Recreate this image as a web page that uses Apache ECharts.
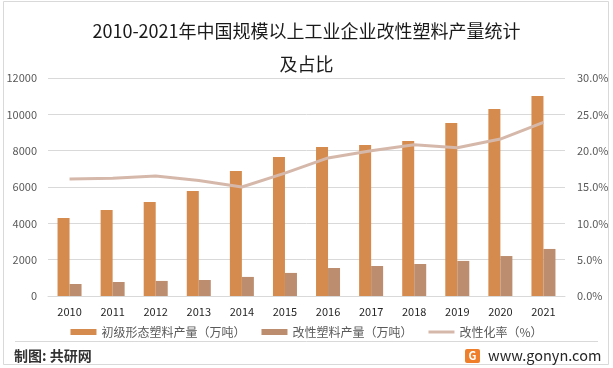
<!DOCTYPE html>
<html>
<head>
<meta charset="utf-8">
<script src="https://cdn.jsdelivr.net/npm/echarts@6/dist/echarts.min.js"></script>
<style>
html,body{margin:0;padding:0;background:#fff;}
#c{width:613px;height:368px;}
</style>
</head>
<body>
<div id="c"></div>
<script>
const years = ['2010','2011','2012','2013','2014','2015','2016','2017','2018','2019','2020','2021'];
const primaryOutput = [4300, 4730, 5170, 5780, 6880, 7650, 8200, 8310, 8530, 9520, 10290, 11010];
const modifiedOutput = [660, 770, 830, 880, 1050, 1270, 1540, 1650, 1760, 1930, 2200, 2590];
const modifiedRate = [16.1, 16.2, 16.5, 15.9, 15.0, 16.9, 19.0, 20.0, 20.8, 20.4, 21.6, 23.9];
const leftTicks = { min: 0, max: 12000, interval: 2000 };
const rightTicks = { min: 0, max: 30, interval: 5 };
const seriesNames = ['初级形态塑料产量（万吨）', '改性塑料产量（万吨）', '改性化率（%）'];

const font = '"Noto Sans CJK SC", "Noto Sans", sans-serif';
const chart = echarts.init(document.getElementById('c'), null, { renderer: 'canvas' });
chart.setOption({
  animation: false,
  backgroundColor: '#ffffff',
  textStyle: { fontFamily: font },
  title: {
    text: '2010-2021年中国规模以上工业企业改性塑料产量统计\n及占比',
    left: 'center',
    top: 15,
    padding: 0,
    textStyle: { fontSize: 18, fontWeight: 'normal', color: '#1a1a1a', lineHeight: 33, fontFamily: font }
  },
  grid: { left: 48, right: 48, top: 78, bottom: 72 },
  legend: {
    top: 321,
    left: 'center',
    itemWidth: 26,
    itemHeight: 6,
    itemGap: 16,
    symbolKeepAspect: true,
    textStyle: { fontSize: 12, color: '#595959', fontFamily: font },
    data: [
      { name: seriesNames[0], icon: 'rect' },
      { name: seriesNames[1], icon: 'rect' },
      { name: seriesNames[2], icon: 'path://M0,0 H26 V3 H0 Z' }
    ]
  },
  xAxis: {
    type: 'category',
    data: years,
    axisLine: { lineStyle: { color: '#D9D9D9' } },
    axisTick: { show: false },
    axisLabel: { color: '#262626', fontSize: 11, margin: 10, fontFamily: font }
  },
  yAxis: [
    {
      type: 'value',
      min: leftTicks.min, max: leftTicks.max, interval: leftTicks.interval,
      axisLine: { show: false },
      axisTick: { show: false },
      splitLine: { lineStyle: { color: '#D9D9D9' } },
      axisLabel: { color: '#595959', fontSize: 11, margin: 11, fontFamily: font,
        formatter: v => String(v) }
    },
    {
      type: 'value',
      min: rightTicks.min, max: rightTicks.max, interval: rightTicks.interval,
      axisLine: { show: false },
      axisTick: { show: false },
      splitLine: { show: false },
      axisLabel: { color: '#595959', fontSize: 11, margin: 12, fontFamily: font,
        formatter: v => v.toFixed(1) + '%' }
    }
  ],
  series: [
    {
      name: seriesNames[0], type: 'bar', data: primaryOutput,
      barWidth: 12, barGap: '0%',
      itemStyle: { color: '#D58B4D' }
    },
    {
      name: seriesNames[1], type: 'bar', data: modifiedOutput,
      barWidth: 12, barGap: '0%',
      itemStyle: { color: '#BC8D6E' }
    },
    {
      name: seriesNames[2], type: 'line', yAxisIndex: 1, data: modifiedRate,
      symbol: 'none', smooth: false,
      lineStyle: { color: '#D6B8AB', width: 3 },
      itemStyle: { color: '#D6B8AB' }
    }
  ],
  graphic: [
    { type: 'rect', shape: { x: 3.5, y: 1.5, width: 605, height: 363 }, style: { fill: 'none', stroke: '#D9D9D9', lineWidth: 1 }, silent: true },
    { type: 'line', shape: { x1: 15, y1: 341.5, x2: 598, y2: 341.5 }, style: { stroke: '#D9D9D9', lineWidth: 1 }, silent: true },
    { type: 'text', left: 14, top: 349, style: { text: '制图: 共研网', fontSize: 14, fontWeight: 'bold', fill: '#333333', fontFamily: font } },
    { type: 'rect', shape: { x: 465, y: 349, width: 15, height: 14, r: 2 }, style: { fill: '#EF7F2A' } },
    { type: 'text', x: 472.5, y: 356, style: { text: 'G', fontSize: 11, fontWeight: 'bold', fill: '#ffffff', align: 'center', verticalAlign: 'middle', fontFamily: font } },
    { type: 'text', x: 488, y: 355, style: { text: 'www.gonyn.com', fontSize: 14.5, fill: '#262626', verticalAlign: 'middle', fontFamily: font } }
  ]
});
</script>
</body>
</html>
